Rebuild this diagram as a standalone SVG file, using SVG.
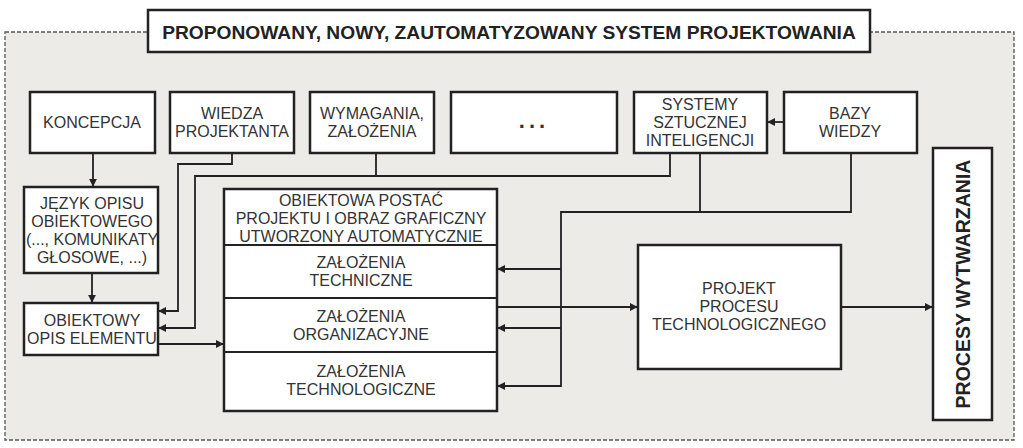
<svg xmlns="http://www.w3.org/2000/svg" width="1023" height="448" viewBox="0 0 1023 448">
<style>
.b{fill:#fff;stroke:#222;stroke-width:2.5}
.t{font-family:"Liberation Sans",Arial,sans-serif;font-size:16px;fill:#333;text-anchor:middle}
.c{fill:none;stroke:#222;stroke-width:1.8}
</style>
<defs><marker id="a" viewBox="0 0 10 10" refX="9" refY="5" markerWidth="4.5" markerHeight="4.5" orient="auto"><path d="M0,0L10,5L0,10z" fill="#222"/></marker></defs>
<rect width="1023" height="448" fill="#fff"/>
<rect x="5" y="32" width="1009" height="408" fill="#ecebe8" stroke="#555" stroke-width="1.3" stroke-dasharray="4,2"/>
<g id="title"><rect x="148" y="10" width="722" height="42" class="b"/><text x="509" y="39" class="t" style="font-weight:bold;font-size:19.2px;fill:#222">PROPONOWANY, NOWY, ZAUTOMATYZOWANY SYSTEM PROJEKTOWANIA</text></g>
<g id="koncepcja"><rect x="30" y="92" width="125" height="61" class="b"/><text x="92" y="128" class="t">KONCEPCJA</text></g>
<g id="wiedza"><rect x="170" y="92" width="124" height="61" class="b"/><text x="232" y="119" class="t">WIEDZA</text><text x="232" y="137" class="t">PROJEKTANTA</text></g>
<g id="wymagania"><rect x="310" y="92" width="124" height="61" class="b"/><text x="372" y="119" class="t">WYMAGANIA,</text><text x="372" y="137" class="t">ZAŁOŻENIA</text></g>
<g id="dots"><rect x="451" y="92" width="166" height="61" class="b"/><text x="534" y="128" class="t" style="font-weight:bold;font-size:22px;letter-spacing:4px">...</text></g>
<g id="systemy"><rect x="634" y="92" width="133" height="61" class="b"/><text x="700" y="110" class="t">SYSTEMY</text><text x="700" y="128" class="t">SZTUCZNEJ</text><text x="700" y="146" class="t">INTELIGENCJI</text></g>
<g id="bazy"><rect x="784" y="92" width="133" height="61" class="b"/><text x="850" y="119" class="t">BAZY</text><text x="850" y="137" class="t">WIEDZY</text></g>
<g id="jezyk"><rect x="24" y="187" width="134" height="86" class="b"/><text x="92" y="209" class="t">JĘZYK OPISU</text><text x="92" y="227" class="t">OBIEKTOWEGO</text><text x="92" y="245" class="t">(..., KOMUNIKATY</text><text x="92" y="263" class="t">GŁOSOWE, ...)</text></g>
<g id="obiektowy"><rect x="24" y="303" width="134" height="52" class="b"/><text x="92" y="326" class="t">OBIEKTOWY</text><text x="92" y="344" class="t">OPIS ELEMENTU</text></g>
<g id="stack"><rect x="224" y="189" width="273" height="222" class="b"/>
<line x1="224" y1="245" x2="497" y2="245" stroke="#222" stroke-width="2"/><line x1="224" y1="298" x2="497" y2="298" stroke="#222" stroke-width="2"/><line x1="224" y1="352" x2="497" y2="352" stroke="#222" stroke-width="2"/>
<text x="361" y="206" class="t">OBIEKTOWA POSTAĆ</text><text x="361" y="224" class="t">PROJEKTU I OBRAZ GRAFICZNY</text><text x="361" y="242" class="t">UTWORZONY AUTOMATYCZNIE</text>
<text x="361" y="268" class="t">ZAŁOŻENIA</text><text x="361" y="286" class="t">TECHNICZNE</text>
<text x="361" y="322" class="t">ZAŁOŻENIA</text><text x="361" y="340" class="t">ORGANIZACYJNE</text>
<text x="361" y="377" class="t">ZAŁOŻENIA</text><text x="361" y="395" class="t">TECHNOLOGICZNE</text></g>
<g id="projekt"><rect x="638" y="245" width="203" height="124" class="b"/><text x="739" y="294" class="t">PROJEKT</text><text x="739" y="312" class="t">PROCESU</text><text x="739" y="330" class="t">TECHNOLOGICZNEGO</text></g>
<g id="procesy"><rect x="933" y="148" width="59" height="272" class="b"/><text transform="translate(970,284) rotate(-90)" class="t" style="font-weight:bold;font-size:19.5px;fill:#222">PROCESY WYTWARZANIA</text></g>
<g id="connectors">
<path class="c" d="M93,153V186" marker-end="url(#a)"/>
<path class="c" d="M92,273V302" marker-end="url(#a)"/>
<path class="c" d="M232,153V164H178V311H159" marker-end="url(#a)"/>
<path class="c" d="M376,153V176M670,153V176H195V328H159" marker-end="url(#a)"/>
<path class="c" d="M158,344H223" marker-end="url(#a)"/>
<path class="c" d="M700,153V212M851,153V212H561V386H498" marker-end="url(#a)"/>
<path class="c" d="M561,269H498" marker-end="url(#a)"/>
<path class="c" d="M561,328H498" marker-end="url(#a)"/>
<path class="c" d="M497,307H637" marker-end="url(#a)"/>
<path class="c" d="M841,307H932" marker-end="url(#a)"/>
<path class="c" d="M784,122H768" marker-end="url(#a)"/>
</g>
</svg>
